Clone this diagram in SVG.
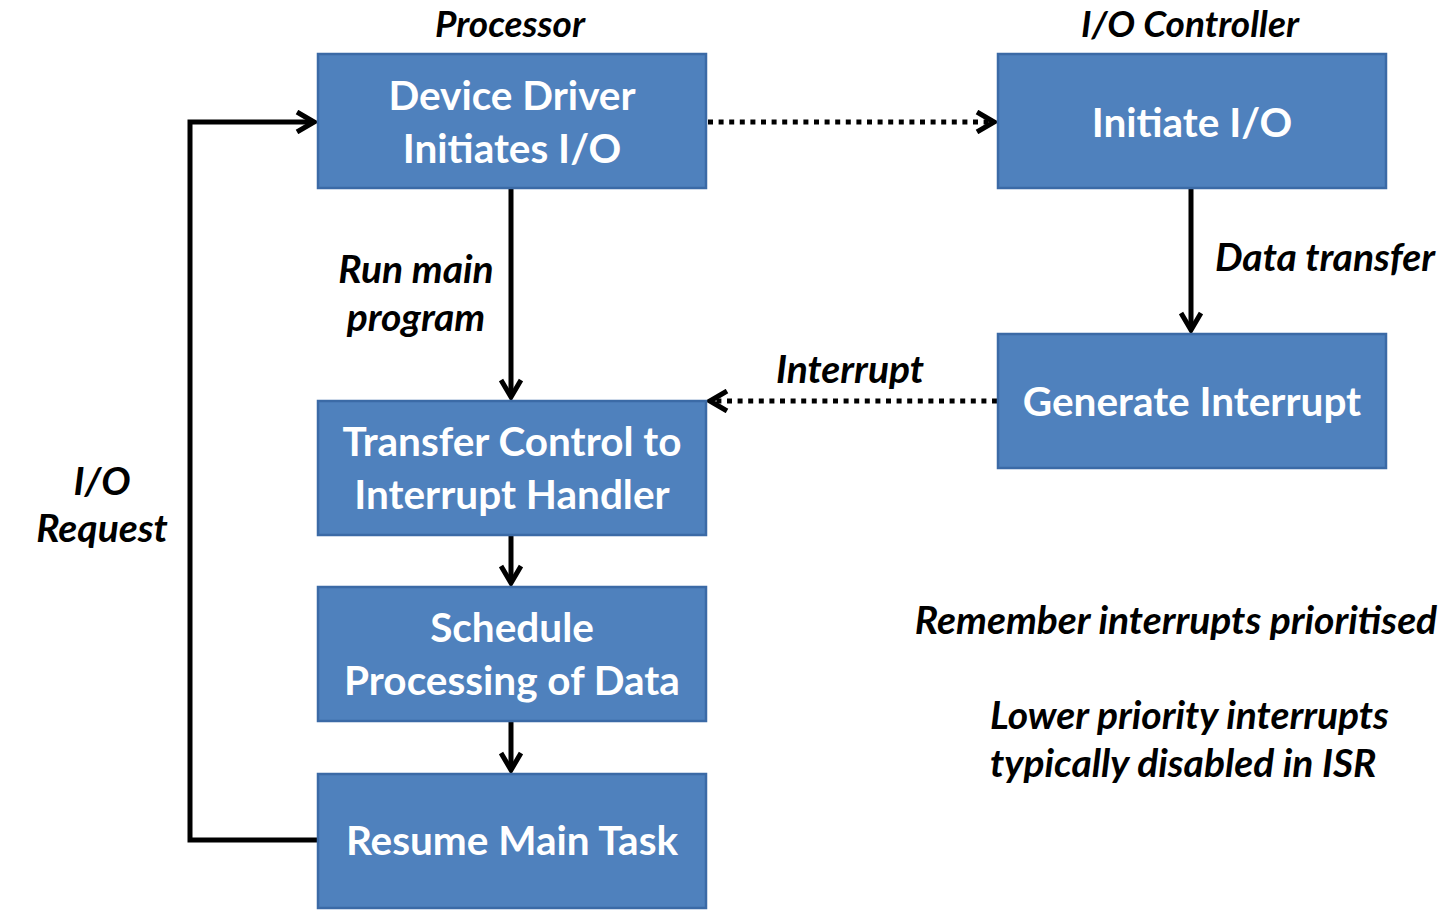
<svg xmlns="http://www.w3.org/2000/svg" width="1456" height="914" viewBox="0 0 1456 914">
<style>
.box{fill:#4F81BD;stroke:#3B6AA6;stroke-width:2.5}
.bt{font-family:Lato,"Open Sans",sans-serif;font-weight:bold;font-size:40.5px;fill:#fff;text-anchor:middle}
.lb{font-family:Lato,"Open Sans",sans-serif;font-weight:bold;font-style:italic;font-size:39px;fill:#000}
.hd{font-size:37px}
.ln{fill:none;stroke:#000;stroke-width:5}
.dot{fill:none;stroke:#000;stroke-width:5;stroke-dasharray:5 5.6}
</style>
<defs>
<marker id="ahb" viewBox="0 0 24 24" refX="21" refY="12" markerWidth="24" markerHeight="24" markerUnits="userSpaceOnUse" orient="auto">
<path d="M4,2 L21,12 L4,22" fill="none" stroke="#000" stroke-width="5"/>
</marker>
</defs>
<g id="connectors">
<polyline class="ln" points="318,840 190,840 190,122 314,122" marker-end="url(#ahb)"/>
<line class="ln" x1="511" y1="188" x2="511" y2="397" marker-end="url(#ahb)"/>
<line class="ln" x1="1191" y1="188" x2="1191" y2="330" marker-end="url(#ahb)"/>
<line class="ln" x1="511" y1="535" x2="511" y2="583" marker-end="url(#ahb)"/>
<line class="ln" x1="511" y1="721" x2="511" y2="770" marker-end="url(#ahb)"/>
<line class="dot" x1="708" y1="122" x2="994" y2="122" marker-end="url(#ahb)"/>
<line class="dot" x1="997" y1="401" x2="710" y2="401" marker-end="url(#ahb)"/>
</g>
<g id="device-driver"><rect class="box" x="318" y="54" width="388" height="134"/><text class="bt" x="512" y="110">Device Driver</text><text class="bt" x="512" y="163">Initiates I/O</text></g>
<g id="initiate-io"><rect class="box" x="998" y="54" width="388" height="134"/><text class="bt" x="1192" y="137">Initiate I/O</text></g>
<g id="generate-interrupt"><rect class="box" x="998" y="334" width="388" height="134"/><text class="bt" x="1192" y="416">Generate Interrupt</text></g>
<g id="transfer-control"><rect class="box" x="318" y="401" width="388" height="134"/><text class="bt" x="512" y="456">Transfer Control to</text><text class="bt" x="512" y="509">Interrupt Handler</text></g>
<g id="schedule"><rect class="box" x="318" y="587" width="388" height="134"/><text class="bt" x="512" y="642">Schedule</text><text class="bt" x="512" y="695">Processing of Data</text></g>
<g id="resume"><rect class="box" x="318" y="774" width="388" height="134"/><text class="bt" x="512" y="855">Resume Main Task</text></g>
<g id="labels">
<text class="lb hd" x="510" y="37" text-anchor="middle">Processor</text>
<text class="lb hd" x="1190" y="37" text-anchor="middle">I/O Controller</text>
<text class="lb" x="416" y="283" text-anchor="middle">Run main</text>
<text class="lb" x="416" y="331" text-anchor="middle">program</text>
<text class="lb" x="1325" y="271" text-anchor="middle">Data transfer</text>
<text class="lb" x="850" y="383" text-anchor="middle">Interrupt</text>
<text class="lb" x="102" y="495" text-anchor="middle">I/O</text>
<text class="lb" x="102" y="542" text-anchor="middle">Request</text>
<text class="lb" x="1176" y="634" text-anchor="middle">Remember interrupts prioritised</text>
<text class="lb" x="990" y="729">Lower priority interrupts</text>
<text class="lb" x="990" y="777">typically disabled in ISR</text>
</g>
</svg>
